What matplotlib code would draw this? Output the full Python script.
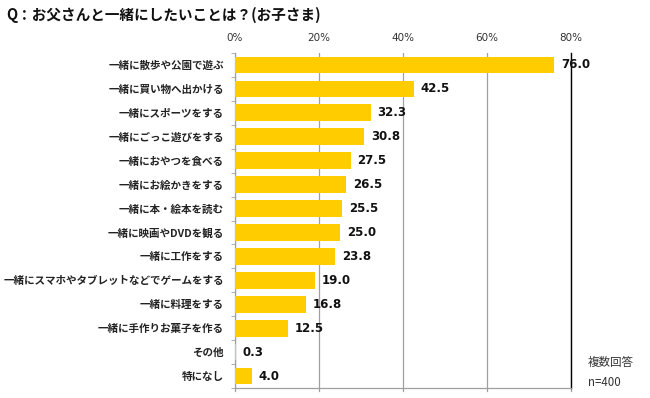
import matplotlib
matplotlib.use("Agg")
import matplotlib.pyplot as plt

plt.rcParams['font.family'] = ['Noto Sans CJK JP', 'DejaVu Sans']

categories = ["一緒に散歩や公園で遊ぶ", "一緒に買い物へ出かける", "一緒にスポーツをする",
              "一緒にごっこ遊びをする", "一緒におやつを食べる", "一緒にお絵かきをする",
              "一緒に本・絵本を読む", "一緒に映画やDVDを観る", "一緒に工作をする",
              "一緒にスマホやタブレットなどでゲームをする", "一緒に料理をする",
              "一緒に手作りお菓子を作る", "その他", "特になし"]
values = [76.0, 42.5, 32.3, 30.8, 27.5, 26.5, 25.5, 25.0, 23.8, 19.0, 16.8, 12.5, 0.3, 4.0]
xticks = [0, 20, 40, 60, 80]
xtick_labels = ["0%", "20%", "40%", "60%", "80%"]

fig = plt.figure(figsize=(6.5, 3.98), dpi=100)
ax = fig.add_axes([235/650, 1-388/398, 336/650, 335/398])

n = len(categories)
ypos = list(range(n))
ax.barh(ypos, values, height=0.7, color="#FFCC00", zorder=3)
ax.set_ylim(n-0.5, -0.5)
ax.set_xlim(0, 80)

for y, v in zip(ypos, values):
    ax.text(v + 1.6, y, f"{v:.1f}", va="center", ha="left", fontsize=8.5,
            fontweight="bold", color="#111111", zorder=4, family="DejaVu Sans")

ax.set_xticks(xticks)
ax.set_xticklabels(xtick_labels, fontsize=7.5, color="#333333", family="DejaVu Sans")
ax.xaxis.tick_top()
ax.tick_params(axis="x", which="major", length=0, pad=7)
ax.grid(axis="x", color="#A0A0A0", linewidth=0.9, zorder=1)

ax.set_yticks(ypos)
ax.set_yticklabels(categories, fontsize=7.6, fontweight="bold", color="#222222")
ax.tick_params(axis="y", which="major", length=0, pad=8)
ax.set_yticks([i + 0.5 for i in range(-1, n)], minor=True)
ax.tick_params(axis="y", which="minor", length=3, color="#A0A0A0", direction="out")

ax.spines["top"].set_visible(False)
ax.spines["left"].set_color("#A0A0A0")
ax.spines["bottom"].set_color("#A0A0A0")
ax.spines["right"].set_color("#000000")
ax.spines["right"].set_linewidth(1.0)
for s in ("left", "bottom"):
    ax.spines[s].set_linewidth(0.9)

# bottom tick marks at each gridline
for xv in xticks:
    ax.plot([xv, xv], [n-0.5, n-0.5+0.12], color="#A0A0A0", lw=0.9, clip_on=False)

fig.text(6/650, 1-15/398, "Q：お父さんと一緒にしたいことは？(お子さま)", fontsize=10.5,
         fontweight="bold", va="center", ha="left", color="#111111")
fig.text(588/650, 1-362/398, "複数回答", fontsize=8.3, va="center", ha="left", color="#333333")
fig.text(588/650, 1-382/398, "n=400", fontsize=8.3, va="center", ha="left", color="#333333")

fig.savefig("out.png", dpi=100)
